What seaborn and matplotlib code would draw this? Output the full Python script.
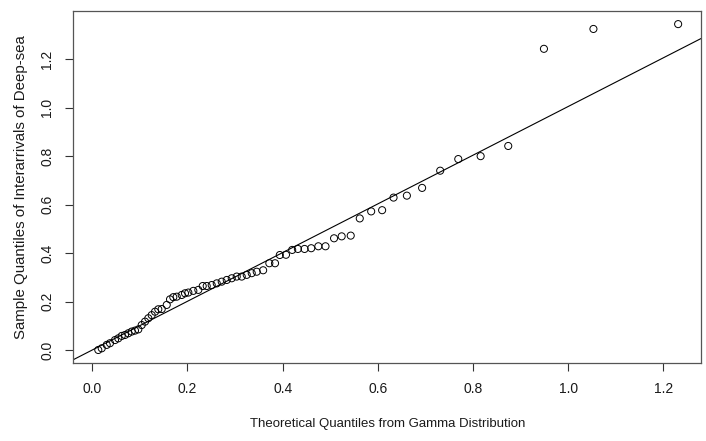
import numpy as np
import pandas as pd
import matplotlib
matplotlib.use("Agg")
import matplotlib.pyplot as plt
import seaborn as sns

# theoretical gamma quantiles (x) and sorted sample quantiles (y)
theoretical = [0.0126, 0.0198, 0.0303, 0.0372, 0.0477, 0.0546, 0.0618, 0.0687, 0.0757, 0.0828,
               0.0897, 0.0967, 0.1038, 0.1108, 0.1177, 0.1248, 0.1318, 0.1387, 0.1459, 0.1564,
               0.1633, 0.1702, 0.1774, 0.1879, 0.1948, 0.2018, 0.2123, 0.2228, 0.2320, 0.2404,
               0.2509, 0.2615, 0.2720, 0.2825, 0.2930, 0.3035, 0.3140, 0.3245, 0.3350, 0.3455,
               0.3590, 0.372, 0.384, 0.394, 0.407, 0.420, 0.432, 0.446, 0.460, 0.475,
               0.490, 0.508, 0.524, 0.543, 0.562, 0.586, 0.609, 0.633, 0.661, 0.693,
               0.731, 0.769, 0.816, 0.874, 0.949, 1.053, 1.231]
sample = [0.000, 0.007, 0.021, 0.028, 0.041, 0.048, 0.058, 0.062, 0.069, 0.076,
          0.080, 0.085, 0.103, 0.117, 0.131, 0.144, 0.158, 0.168, 0.169, 0.186,
          0.209, 0.218, 0.220, 0.227, 0.234, 0.237, 0.244, 0.248, 0.264, 0.264,
          0.268, 0.275, 0.282, 0.289, 0.296, 0.303, 0.303, 0.310, 0.317, 0.323,
          0.329, 0.358, 0.358, 0.392, 0.393, 0.413, 0.417, 0.417, 0.420, 0.428,
          0.428, 0.461, 0.469, 0.472, 0.543, 0.572, 0.577, 0.629, 0.637, 0.669,
          0.740, 0.788, 0.800, 0.842, 1.243, 1.325, 1.345]

# reference line (intercept, slope)
line_intercept = 0.0
line_slope = 1.005

df = pd.DataFrame({"theoretical": theoretical, "sample": sample})

sns.set_theme(style="white")
plt.rcParams["font.family"] = ["Liberation Sans", "DejaVu Sans"]

fig = plt.figure(figsize=(7.06, 4.41), dpi=100)
ax = fig.add_axes([0.1041, 0.1776, 0.8888, 0.7974])

sns.scatterplot(data=df, x="theoretical", y="sample", ax=ax, marker="o", s=26,
                facecolor="none", edgecolor="black", linewidth=0.7)
ax.collections[0].set_facecolor("none")
ax.axline((0, line_intercept), slope=line_slope, color="black", lw=0.8)

ax.set_xlim(-0.0395, 1.279)
ax.set_ylim(-0.0524, 1.399)
ax.set_xticks([0.0, 0.2, 0.4, 0.6, 0.8, 1.0, 1.2])
ax.set_yticks([0.0, 0.2, 0.4, 0.6, 0.8, 1.0, 1.2])
ax.set_xticklabels(["0.0", "0.2", "0.4", "0.6", "0.8", "1.0", "1.2"])
ax.set_yticklabels(["0.0", "0.2", "0.4", "0.6", "0.8", "1.0", "1.2"])
plt.setp(ax.get_yticklabels(), rotation=90, va="center")

ax.tick_params(axis="both", direction="out", length=6, width=0.8, color="#333333",
               labelsize=10, labelcolor="#1a1a1a", pad=8, left=True, bottom=True)
for side in ax.spines.values():
    side.set_color("#555555")
    side.set_linewidth(0.9)

ax.set_xlabel("Theoretical Quantiles from Gamma Distribution", fontsize=9.5,
              color="#1a1a1a", labelpad=16)
ax.set_ylabel("Sample Quantiles of Interarrivals of Deep-sea", fontsize=10.8,
              color="#1a1a1a", labelpad=9)

fig.savefig("out.png", dpi=100)
